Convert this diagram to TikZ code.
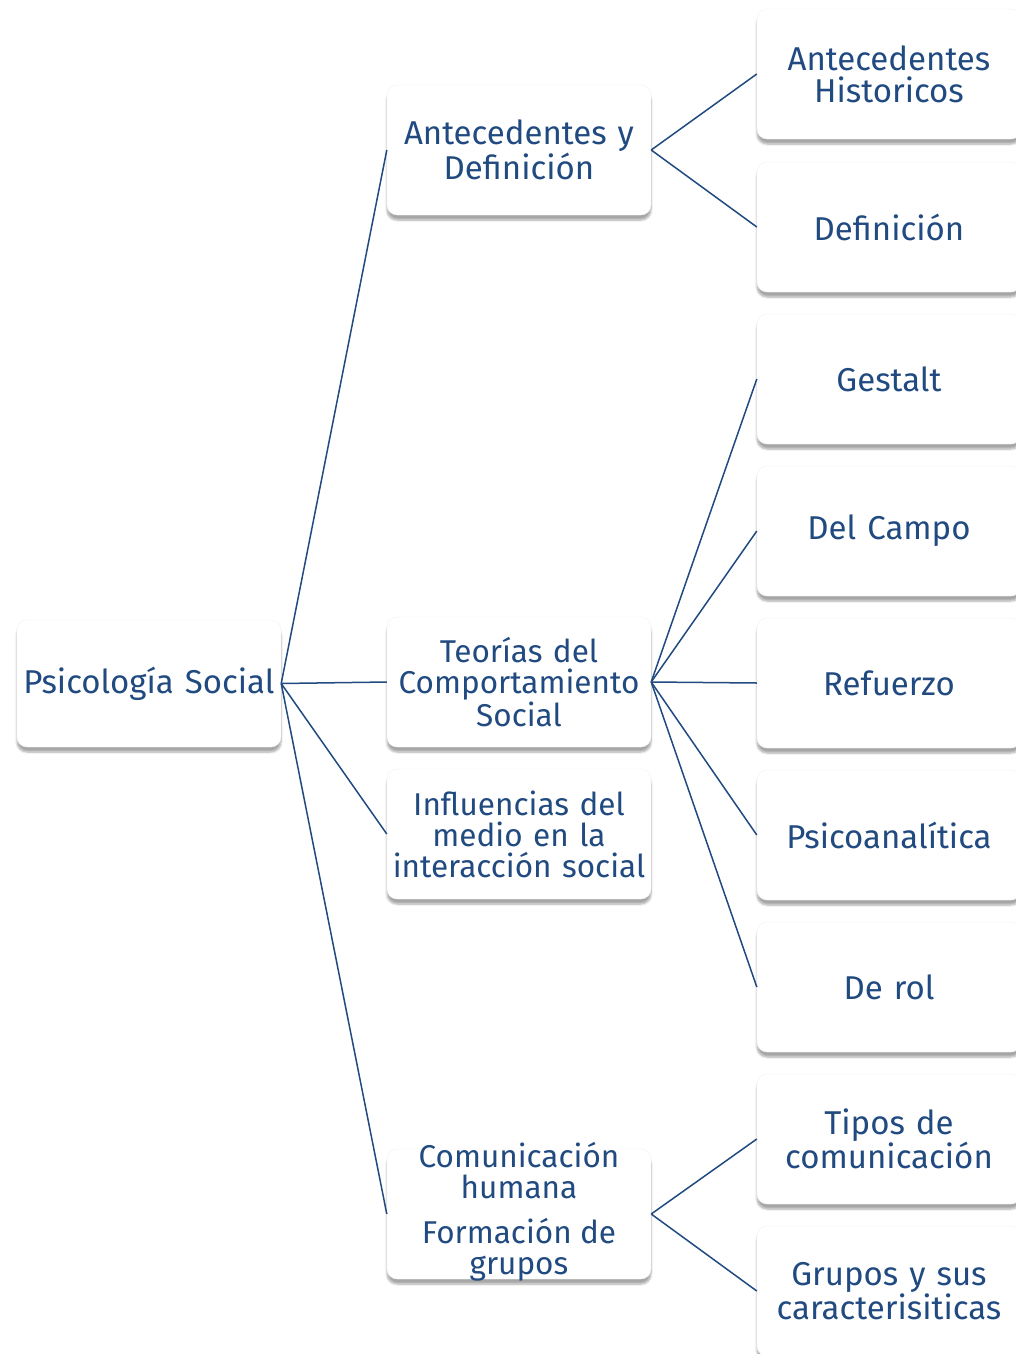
\documentclass[tikz,border=0pt]{standalone}
\usepackage{fontspec}
\setmainfont{Fira Sans}
\usepackage{tikz}
\usetikzlibrary{positioning, shadows.blur}
\definecolor{mapblue}{RGB}{32, 74, 128}

\begin{document}
\begin{tikzpicture}[
    x=1pt, y=-1pt,
    every node/.style={text=mapblue},
    topic/.style={
        rectangle,
        rounded corners=10pt,
        fill=white,
        draw=black!5,
        minimum width=264pt,
        minimum height=130pt,
        text width=256pt,
        align=center,
        inner sep=0pt,
        font=\fontsize{33}{32}\selectfont,
        blur shadow={shadow xshift=0pt, shadow yshift=-5pt, shadow blur steps=6, shadow opacity=35}
    },
    small/.style={
        font=\fontsize{31.5}{31}\selectfont
    },
    link/.style={
        draw=mapblue,
        line width=1.5pt
    }
]

\useasboundingbox (0,0) rectangle (1016,1354);
\clip (0,0) rectangle (1016,1354);

% ==================== ROOT ====================
\node (root) [topic, minimum height=127pt] at (149, 683.5) {Psicología Social};

% ==================== SECOND LEVEL ====================
\node (antdef) [topic] at (519, 150) {Antecedentes y\\Definición};
\node (teorias) [topic, small] at (519, 682) {Teorías del\\Comportamiento\\Social};
\node (influ) [topic, small] at (519, 834) {Influencias del\\medio en la\\interacción social};
\node (comun) [topic] at (519, 1214) {};
\node (comuntext) [small, align=center, inner sep=0pt] at (519, 1212) {Comunicación\\humana\\[14pt]Formación de\\grupos};

% ==================== THIRD LEVEL ====================
\node (hist) [topic] at (889, 74) {Antecedentes\\Historicos};
\node (defi) [topic] at (889, 227) {Definición};
\node (gestalt) [topic] at (889, 379) {Gestalt};
\node (campo) [topic] at (889, 531) {Del Campo};
\node (refuerzo) [topic] at (889, 683) {Refuerzo};
\node (psico) [topic] at (889, 835) {Psicoanalítica};
\node (derol) [topic] at (889, 987) {De rol};
\node (tipos) [topic] at (889, 1139) {Tipos de\\comunicación};
\node (grupos) [topic] at (889, 1291) {Grupos y sus\\caracterisiticas};

% ==================== CONNECTIONS ====================
\foreach \child in {antdef, teorias, influ, comun}
    \draw [link] (root.east) -- (\child.west);

\foreach \child in {hist, defi}
    \draw [link] (antdef.east) -- (\child.west);

\foreach \child in {gestalt, campo, refuerzo, psico, derol}
    \draw [link] (teorias.east) -- (\child.west);

\foreach \child in {tipos, grupos}
    \draw [link] (comun.east) -- (\child.west);

\end{tikzpicture}
\end{document}
